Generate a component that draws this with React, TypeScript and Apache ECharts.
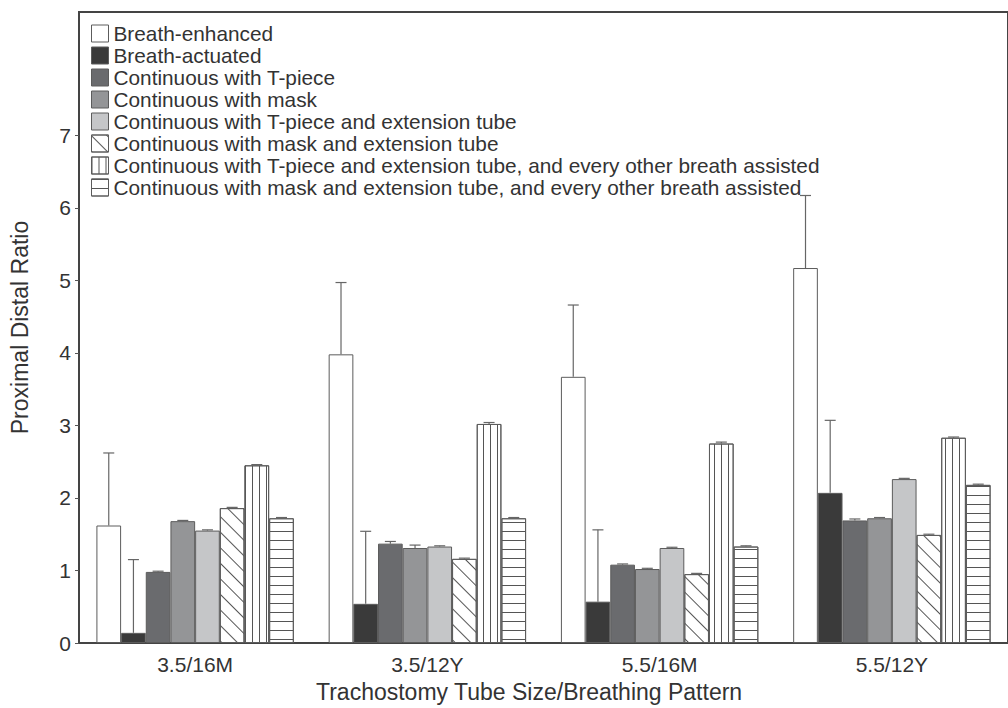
import React, { useEffect, useRef } from "react";
import * as echarts from "echarts";

const categories = ["3.5/16M", "3.5/12Y", "5.5/16M", "5.5/12Y"];
const seriesNames = [
  "Breath-enhanced",
  "Breath-actuated",
  "Continuous with T-piece",
  "Continuous with mask",
  "Continuous with T-piece and extension tube",
  "Continuous with mask and extension tube",
  "Continuous with T-piece and extension tube, and every other breath assisted",
  "Continuous with mask and extension tube, and every other breath assisted",
];
const breathEnhanced = [1.62, 3.98, 3.67, 5.17];
const breathActuated = [0.14, 0.54, 0.57, 2.07];
const contTPiece = [0.98, 1.37, 1.08, 1.69];
const contMask = [1.68, 1.31, 1.02, 1.72];
const contTPieceExt = [1.55, 1.33, 1.31, 2.26];
const contMaskExt = [1.86, 1.16, 0.95, 1.49];
const contTPieceExtAssist = [2.45, 3.02, 2.75, 2.83];
const contMaskExtAssist = [1.72, 1.72, 1.33, 2.18];

const errBreathEnhanced = [1.0, 0.99, 0.99, 1.0];
const errBreathActuated = [1.01, 1.0, 0.99, 1.0];
const errContTPiece = [0.01, 0.03, 0.01, 0.02];
const errContMask = [0.01, 0.04, 0.01, 0.01];
const errContTPieceExt = [0.01, 0.01, 0.01, 0.01];
const errContMaskExt = [0.01, 0.01, 0.01, 0.01];
const errContTPieceExtAssist = [0.01, 0.02, 0.02, 0.01];
const errContMaskExtAssist = [0.01, 0.01, 0.01, 0.01];

const yTicks = [0, 1, 2, 3, 4, 5, 6, 7];

const values = [
  breathEnhanced,
  breathActuated,
  contTPiece,
  contMask,
  contTPieceExt,
  contMaskExt,
  contTPieceExtAssist,
  contMaskExtAssist,
];
const errors = [
  errBreathEnhanced,
  errBreathActuated,
  errContTPiece,
  errContMask,
  errContTPieceExt,
  errContMaskExt,
  errContTPieceExtAssist,
  errContMaskExtAssist,
];

const FONT = "Liberation Sans, Arial, sans-serif";
const BORDER = "#5c5c5c";

const fills = ["#ffffff", "#3a3a3a", "#6a6b6e", "#949597", "#c5c6c8", "#ffffff", "#ffffff", "#ffffff"];
const decals: any[] = [
  undefined,
  undefined,
  undefined,
  undefined,
  undefined,
  { symbol: "rect", symbolSize: 1, dashArrayX: [1, 0], dashArrayY: [1, 10], rotation: Math.PI / 4, color: "#555" },
  { symbol: "rect", symbolSize: 1, dashArrayX: [1, 6], dashArrayY: [1, 0], rotation: 0, color: "#555" },
  { symbol: "rect", symbolSize: 1, dashArrayX: [1, 0], dashArrayY: [1, 8], rotation: 0, color: "#555" },
];

export default function App() {
  const ref = useRef<HTMLDivElement>(null);
  useEffect(() => {
    if (!ref.current) return;
    const chart = echarts.init(ref.current, null, { renderer: "svg" });
    const n = seriesNames.length;
    const barSeries = seriesNames.map((name, i) => ({
      name,
      type: "bar",
      data: values[i],
      barGap: "0%",
      barCategoryGap: "15%",
      itemStyle: {
        color: fills[i],
        borderColor: BORDER,
        borderWidth: 1,
        decal: decals[i],
      },
      z: 2,
    }));
    const errData: number[][] = [];
    for (let s = 0; s < n; s++) {
      for (let c = 0; c < categories.length; c++) {
        errData.push([c, s, values[s][c], errors[s][c]]);
      }
    }
    const errSeries = {
      type: "custom",
      name: "err",
      data: errData,
      z: 5,
      silent: true,
      renderItem: (params: any, api: any) => {
        const c = api.value(0);
        const s = api.value(1);
        const v = api.value(2);
        const e = api.value(3);
        const p0 = api.coord([c, v]);
        const p1 = api.coord([c, v + e]);
        const band = api.size([1, 0])[0];
        const group = band * 0.85;
        const bw = group / n;
        const x = p0[0] - group / 2 + (s + 0.5) * bw;
        const cap = 5.5;
        const style = { stroke: "#666", lineWidth: 1.2 };
        return {
          type: "group",
          children: [
            { type: "line", shape: { x1: x, y1: p0[1], x2: x, y2: p1[1] }, style },
            { type: "line", shape: { x1: x - cap, y1: p1[1], x2: x + cap, y2: p1[1] }, style },
          ],
        };
      },
    };
    chart.setOption({
      animation: false,
      backgroundColor: "#ffffff",
      textStyle: { fontFamily: FONT },
      grid: {
        left: 79,
        top: 12,
        right: -15,
        bottom: 65,
        show: true,
        borderColor: "#444",
        borderWidth: 2,
        containLabel: false,
      },
      legend: {
        data: seriesNames,
        orient: "vertical",
        left: 86,
        top: 18,
        itemWidth: 17,
        itemHeight: 17,
        itemGap: 1,
        icon: "rect",
        selectedMode: false,
        textStyle: { fontFamily: FONT, fontSize: 20.8, color: "#333" },
        itemStyle: { borderColor: BORDER, borderWidth: 1 },
      },
      xAxis: {
        type: "category",
        data: categories,
        axisLine: { lineStyle: { color: "#444", width: 2 } },
        axisTick: { show: false },
        axisLabel: { fontFamily: FONT, fontSize: 21, color: "#333", margin: 11 },
      },
      yAxis: {
        type: "value",
        min: 0,
        max: 8.7,
        name: "Proximal Distal Ratio",
        nameLocation: "middle",
        nameGap: 48,
        nameTextStyle: { fontFamily: FONT, fontSize: 23, color: "#333" },
        axisLine: { show: true, lineStyle: { color: "#444", width: 2 } },
        axisTick: { show: true, length: 4, customValues: yTicks, lineStyle: { color: "#555", width: 1 } },
        axisLabel: { customValues: yTicks, fontFamily: FONT, fontSize: 21, color: "#333", margin: 8 },
        splitLine: { show: false },
      },
      graphic: [
        {
          type: "text",
          left: 316,
          top: 680,
          style: { text: "Trachostomy Tube Size/Breathing Pattern", fontFamily: FONT, fontSize: 23, fill: "#333" },
        },
      ],
      series: [...barSeries, errSeries],
    });
    return () => chart.dispose();
  }, []);
  return (
    <div
      ref={ref}
      style={{ position: "absolute", left: 0, top: 0, width: 1008, height: 708, background: "#fff" }}
    />
  );
}
